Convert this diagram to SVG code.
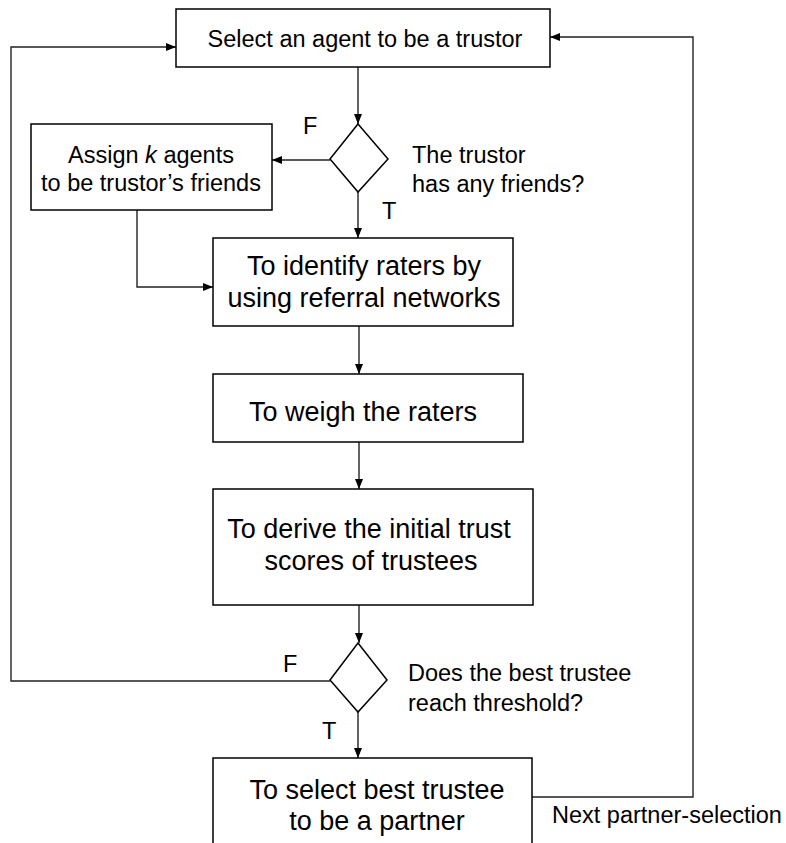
<svg xmlns="http://www.w3.org/2000/svg" width="786" height="843" viewBox="0 0 786 843">
<defs>
<marker id="arr" markerUnits="userSpaceOnUse" markerWidth="10" markerHeight="10" viewBox="0 0 10 10" refX="10" refY="5" orient="auto">
<path d="M0,1 L10,5 L0,9 Z" fill="#000"/>
</marker>
</defs>
<style>
.box{fill:#fff;stroke:#000;stroke-width:1.5}
.con{fill:none;stroke:#222;stroke-width:1.4}
.t{font-family:"Liberation Sans",Arial,sans-serif;fill:#000}
.s{font-size:23.5px}
.l{font-size:27px}
.c{text-anchor:middle}
</style>
<rect width="786" height="843" fill="#fff"/>
<g id="connectors">
<path class="con" d="M358,67 V124" marker-end="url(#arr)"/>
<path class="con" d="M330,160 H272" marker-end="url(#arr)"/>
<path class="con" d="M358,192 V238" marker-end="url(#arr)"/>
<path class="con" d="M137,210 V287 H213" marker-end="url(#arr)"/>
<path class="con" d="M359,326 V374" marker-end="url(#arr)"/>
<path class="con" d="M359,442 V489" marker-end="url(#arr)"/>
<path class="con" d="M359,605 V643" marker-end="url(#arr)"/>
<path class="con" d="M358,712 V758" marker-end="url(#arr)"/>
<path class="con" d="M330,681 H11 V47 H176" marker-end="url(#arr)"/>
<path class="con" d="M532,797 H693 V37 H550" marker-end="url(#arr)"/>
<text class="t s" x="303" y="134">F</text>
<text class="t s" x="382" y="219">T</text>
<text class="t s" x="283" y="672">F</text>
<text class="t s" x="322" y="739">T</text>
<text class="t s" x="552" y="823">Next partner-selection</text>
</g>
<g id="select-trustor">
<rect class="box" x="176" y="9" width="374" height="58"/>
<text class="t s c" x="365" y="47">Select an agent to be a trustor</text>
</g>
<g id="has-friends">
<polygon class="box" points="358,124 388,159 358,192 330,159"/>
<text class="t s" x="412" y="163">The trustor</text>
<text class="t s" x="412" y="192">has any friends?</text>
</g>
<g id="assign-friends">
<rect class="box" x="31" y="124" width="241" height="86"/>
<text class="t s c" x="151" y="163">Assign <tspan font-style="italic">k</tspan> agents</text>
<text class="t s c" x="151" y="191">to be trustor’s friends</text>
</g>
<g id="identify-raters">
<rect class="box" x="213" y="238" width="300" height="88"/>
<text class="t l c" x="364" y="275">To identify raters by</text>
<text class="t l c" x="364" y="307">using referral networks</text>
</g>
<g id="weigh-raters">
<rect class="box" x="213" y="374" width="310" height="68"/>
<text class="t l c" x="363" y="421">To weigh the raters</text>
</g>
<g id="derive-trust">
<rect class="box" x="213" y="489" width="320" height="116"/>
<text class="t l c" x="369" y="538">To derive the initial trust</text>
<text class="t l c" x="371" y="570">scores of trustees</text>
</g>
<g id="threshold">
<polygon class="box" points="358,643 387,680 358,712 330,680"/>
<text class="t s" x="408" y="681">Does the best trustee</text>
<text class="t s" x="408" y="711">reach threshold?</text>
</g>
<g id="select-partner">
<rect class="box" x="213" y="758" width="319" height="95"/>
<text class="t l c" x="377" y="799">To select best trustee</text>
<text class="t l c" x="377" y="830">to be a partner</text>
</g>
</svg>
